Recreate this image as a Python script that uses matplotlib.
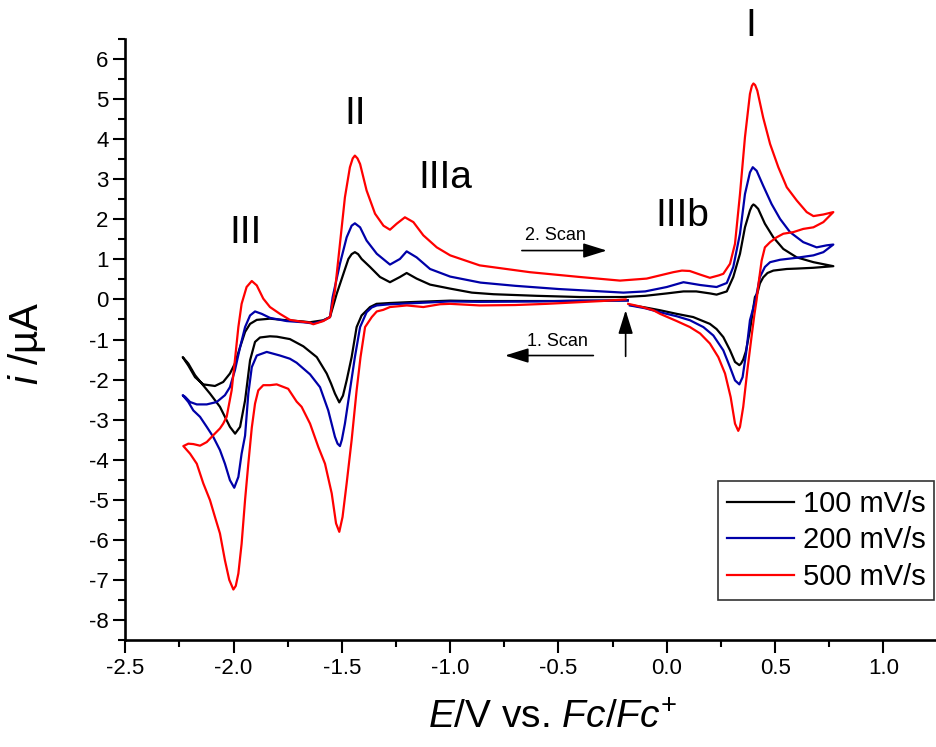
import matplotlib
matplotlib.use('Agg')
import matplotlib.pyplot as plt
from matplotlib.ticker import MultipleLocator, FormatStrFormatter

# ---------------- data (potential E / V vs Fc/Fc+, current i / uA), full CV loops ----------------
E_100 = [-0.18, -0.3, -0.5, -0.7, -0.9, -1.0, -1.1, -1.2, -1.28, -1.34, -1.37, -1.409, -1.432, -1.455,
         -1.478, -1.495, -1.512, -1.532, -1.55, -1.570, -1.616, -1.678, -1.740, -1.80, -1.832, -1.878,
         -1.901, -1.924, -1.947, -1.970, -1.993, -2.017, -2.040, -2.063, -2.109, -2.147, -2.178, -2.209,
         -2.235,
         -2.209, -2.178, -2.140, -2.086, -2.048, -2.017, -1.994, -1.970, -1.947, -1.924, -1.893, -1.832,
         -1.755, -1.678, -1.648, -1.586, -1.555, -1.524, -1.493, -1.470, -1.455, -1.440, -1.425, -1.409,
         -1.370, -1.324, -1.278, -1.232, -1.201, -1.155, -1.093, -1.0, -0.9, -0.8, -0.6, -0.4, -0.2,
         -0.1, 0.0, 0.077, 0.136, 0.2, 0.23, 0.277, 0.307, 0.338, 0.361, 0.384, 0.393, 0.400, 0.408,
         0.422, 0.453, 0.492, 0.538, 0.600, 0.677, 0.769,
         0.723, 0.677, 0.60, 0.554, 0.492, 0.465, 0.445, 0.430, 0.418, 0.407, 0.384, 0.365, 0.353,
         0.343, 0.335, 0.315, 0.292, 0.261, 0.230, 0.199, 0.122, 0.046, -0.031, -0.10, -0.17]
I_100 = [-0.02, -0.03, -0.04, -0.04, -0.04, -0.03, -0.05, -0.07, -0.09, -0.11, -0.19, -0.40, -0.69, -1.44,
         -2.02, -2.40, -2.57, -2.35, -2.10, -1.85, -1.44, -1.17, -0.99, -0.93, -0.92, -0.95,
         -1.06, -1.52, -2.52, -3.18, -3.35, -3.18, -2.93, -2.68, -2.35, -2.10, -1.89, -1.60,
         -1.44,
         -1.65, -1.94, -2.12, -2.16, -2.06, -1.85, -1.60, -1.19, -0.81, -0.61, -0.51, -0.48,
         -0.52, -0.55, -0.57, -0.52, -0.44, 0.14, 0.64, 1.01, 1.13, 1.18, 1.13, 1.01,
         0.81, 0.56, 0.43, 0.56, 0.66, 0.52, 0.37, 0.27, 0.17, 0.13, 0.09, 0.06, 0.06,
         0.09, 0.15, 0.20, 0.20, 0.15, 0.12, 0.20, 0.56, 1.14, 1.80, 2.22, 2.33, 2.37, 2.34,
         2.26, 1.89, 1.55, 1.26, 1.05, 0.93, 0.83,
         0.81, 0.79, 0.77, 0.76, 0.72, 0.66, 0.55, 0.40, 0.15, 0.06, -0.77, -1.30, -1.50,
         -1.60, -1.64, -1.56, -1.27, -0.94, -0.74, -0.61, -0.44, -0.36, -0.27, -0.20, -0.14]

E_200 = [-0.18, -0.4, -0.6, -0.86, -1.0, -1.155, -1.278, -1.339, -1.362, -1.386, -1.416, -1.440, -1.463,
         -1.486, -1.500, -1.509, -1.520, -1.532, -1.563, -1.601, -1.647, -1.694, -1.709, -1.740, -1.786,
         -1.847, -1.893, -1.916, -1.932, -1.947, -1.963, -1.978, -1.997, -2.017, -2.040, -2.063, -2.094,
         -2.124, -2.155, -2.186, -2.209, -2.235,
         -2.224, -2.201, -2.170, -2.124, -2.078, -2.040, -2.017, -1.994, -1.970, -1.947, -1.924, -1.901,
         -1.870, -1.832, -1.755, -1.678, -1.632, -1.586, -1.555, -1.543, -1.509, -1.478, -1.455, -1.440,
         -1.416, -1.386, -1.339, -1.278, -1.232, -1.201, -1.155, -1.093, -1.0, -0.86, -0.7, -0.5, -0.3,
         -0.2, -0.1, 0.0, 0.077, 0.154, 0.23, 0.277, 0.307, 0.338, 0.361, 0.384, 0.397, 0.415, 0.445,
         0.484, 0.523, 0.569, 0.630, 0.692, 0.738, 0.769,
         0.723, 0.677, 0.600, 0.523, 0.477, 0.453, 0.430, 0.415, 0.400, 0.384, 0.366, 0.350, 0.335,
         0.315, 0.292, 0.261, 0.215, 0.169, 0.107, 0.046, -0.031, -0.10, -0.17]
I_200 = [-0.03, -0.03, -0.05, -0.06, -0.05, -0.09, -0.12, -0.15, -0.20, -0.32, -0.69, -1.44, -2.27,
         -3.10, -3.50, -3.66, -3.60, -3.43, -2.77, -2.19, -1.87, -1.65, -1.58, -1.48, -1.40,
         -1.31, -1.40, -1.69, -2.35, -3.40, -3.85, -4.43, -4.70, -4.51, -4.10, -3.76, -3.43,
         -3.18, -2.93, -2.77, -2.56, -2.39,
         -2.43, -2.56, -2.62, -2.62, -2.56, -2.39, -2.19, -1.77, -1.19, -0.69, -0.40, -0.30,
         -0.36, -0.46, -0.54, -0.57, -0.60, -0.53, -0.44, 0.05, 0.89, 1.55, 1.84, 1.90,
         1.80, 1.47, 1.14, 0.87, 1.01, 1.20, 1.05, 0.76, 0.57, 0.42, 0.34, 0.26, 0.20,
         0.17, 0.20, 0.31, 0.43, 0.36, 0.31, 0.41, 0.81, 1.64, 2.63, 3.17, 3.30, 3.21, 2.84,
         2.38, 2.01, 1.68, 1.43, 1.30, 1.35, 1.37,
         1.18, 1.10, 1.04, 0.99, 0.93, 0.81, 0.56, 0.14, -0.20, -0.52, -1.35, -1.94, -2.12,
         -2.02, -1.69, -1.27, -0.90, -0.69, -0.52, -0.42, -0.32, -0.22, -0.15]

E_500 = [-0.19, -0.3, -0.45, -0.555, -0.7, -0.864, -1.0, -1.047, -1.124, -1.2, -1.278, -1.309, -1.339,
         -1.362, -1.393, -1.414, -1.432, -1.455, -1.478, -1.497, -1.512, -1.527, -1.547, -1.578, -1.609,
         -1.647, -1.686, -1.709, -1.748, -1.801, -1.832, -1.863, -1.886, -1.901, -1.916, -1.932, -1.947,
         -1.963, -1.978, -1.990, -2.001, -2.020, -2.040, -2.063, -2.086, -2.109, -2.140, -2.170, -2.201,
         -2.232,
         -2.209, -2.186, -2.155, -2.124, -2.094, -2.063, -2.048, -2.032, -2.009, -1.994, -1.978, -1.963,
         -1.940, -1.916, -1.893, -1.863, -1.832, -1.786, -1.740, -1.694, -1.647, -1.632, -1.586, -1.555,
         -1.532, -1.509, -1.486, -1.463, -1.450, -1.440, -1.428, -1.416, -1.386, -1.347, -1.308, -1.278,
         -1.247, -1.209, -1.170, -1.124, -1.062, -1.0, -0.864, -0.632, -0.401, -0.216, -0.093, 0.030,
         0.070, 0.106, 0.154, 0.199, 0.240, 0.261, 0.292, 0.315, 0.338, 0.361, 0.384, 0.393, 0.400,
         0.408, 0.418, 0.445, 0.477, 0.515, 0.554, 0.600, 0.646, 0.677, 0.723, 0.769,
         0.723, 0.677, 0.630, 0.584, 0.538, 0.507, 0.477, 0.453, 0.438, 0.425, 0.415, 0.404, 0.392,
         0.372, 0.353, 0.338, 0.330, 0.315, 0.295, 0.269, 0.238, 0.199, 0.154, 0.107, 0.046, -0.031,
         -0.062, -0.12, -0.178]
I_500 = [0.0, -0.04, -0.08, -0.11, -0.14, -0.15, -0.11, -0.12, -0.19, -0.15, -0.19, -0.26, -0.30,
         -0.44, -0.69, -1.44, -2.27, -3.51, -4.59, -5.43, -5.80, -5.59, -4.84, -4.10, -3.68,
         -3.10, -2.68, -2.55, -2.23, -2.12, -2.14, -2.14, -2.27, -2.60, -3.20, -4.10, -5.00,
         -6.10, -6.84, -7.15, -7.24, -7.00, -6.51, -5.84, -5.43, -5.01, -4.59, -4.10, -3.85,
         -3.66,
         -3.60, -3.61, -3.65, -3.56, -3.39, -3.22, -3.10, -2.93, -2.27, -1.52, -0.69, -0.11,
         0.31, 0.46, 0.35, 0.02, -0.19, -0.36, -0.51, -0.55, -0.58, -0.62, -0.54, -0.44,
         0.22, 1.39, 2.55, 3.30, 3.52, 3.59, 3.52, 3.38, 2.72, 2.14, 1.84, 1.74,
         1.89, 2.05, 1.93, 1.60, 1.30, 1.10, 0.85, 0.68, 0.56, 0.47, 0.52, 0.68,
         0.72, 0.71, 0.62, 0.54, 0.60, 0.64, 0.89, 1.39, 2.63, 4.05, 5.13, 5.33, 5.39,
         5.35, 5.21, 4.54, 3.88, 3.30, 2.80, 2.47, 2.18, 2.08, 2.12, 2.18,
         1.93, 1.80, 1.76, 1.68, 1.64, 1.55, 1.43, 1.30, 0.97, 0.45, 0.0, -0.40, -0.90,
         -1.77, -2.68, -3.18, -3.28, -3.10, -2.44, -1.85, -1.44, -1.10, -0.85, -0.69, -0.54, -0.36,
         -0.27, -0.18, -0.11]

labels = ["100 mV/s", "200 mV/s", "500 mV/s"]
colors = ["#000000", "#0000A8", "#FF0000"]
peak_labels = ["I", "II", "III", "IIIa", "IIIb"]

# ---------------- style ----------------
plt.rcParams['font.family'] = ['Liberation Sans', 'DejaVu Sans']
plt.rcParams['axes.unicode_minus'] = False
plt.rcParams['mathtext.fontset'] = 'custom'
plt.rcParams['mathtext.it'] = 'Liberation Sans:italic'
plt.rcParams['mathtext.rm'] = 'Liberation Sans'
plt.rcParams['mathtext.sf'] = 'Liberation Sans'

W, H = 936, 747
fig = plt.figure(figsize=(W / 100, H / 100), dpi=100)
ax = fig.add_axes([125.3 / W, 107 / H, (W - 125.3) / W, 601 / H])

for E, I, lab, col in zip([E_100, E_200, E_500], [I_100, I_200, I_500], labels, colors):
    ax.plot(E, I, color=col, lw=1.6, label=lab)

ax.set_xlim(-2.5, 1.243)
ax.set_ylim(-8.5, 6.5)
for s in ['top', 'right']:
    ax.spines[s].set_visible(False)
for s in ['left', 'bottom']:
    ax.spines[s].set_linewidth(1.9)

ax.xaxis.set_major_locator(MultipleLocator(0.5))
ax.xaxis.set_minor_locator(MultipleLocator(0.25))
ax.yaxis.set_major_locator(MultipleLocator(1))
ax.yaxis.set_minor_locator(MultipleLocator(0.5))
ax.xaxis.set_major_formatter(FormatStrFormatter('%.1f'))
ax.yaxis.set_major_formatter(FormatStrFormatter('%d'))
ax.tick_params(which='major', direction='out', length=9, width=1.5, labelsize=16)
ax.tick_params(axis='x', which='major', pad=4)
ax.tick_params(axis='y', which='major', pad=3)
ax.tick_params(which='minor', direction='out', length=5, width=1.5)

fig.text(553 / W, 1 - 718 / H, r'$E$/V vs. $Fc/Fc^{+}$', fontsize=28, ha='center', va='center')
fig.text(27 / W, 1 - 343 / H, r'$i$ /µA', fontsize=29, ha='center', va='center', rotation=90)

# peak labels
pos = [(0.389, 6.83), (-1.44, 4.64), (-1.947, 1.67), (-1.024, 3.04), (0.074, 2.09)]
for t, (x, y) in zip(peak_labels, pos):
    ax.text(x, y, t, fontsize=28, ha='center', va='center')

# scan arrows
ap = dict(arrowstyle='-|>,head_length=0.9,head_width=0.28', color='black', lw=1.2,
          shrinkA=0, shrinkB=0, mutation_scale=16)
ax.annotate('', xy=(-0.277, 1.22), xytext=(-0.669, 1.22), arrowprops=ap)
ax.text(-0.512, 1.6, '2. Scan', fontsize=13, ha='center', va='center')
ax.annotate('', xy=(-0.747, -1.40), xytext=(-0.339, -1.40), arrowprops=ap)
ax.text(-0.507, -1.06, '1. Scan', fontsize=13, ha='center', va='center')
ax.annotate('', xy=(-0.19, -0.27), xytext=(-0.19, -1.42), arrowprops=ap)

leg = ax.legend(loc='upper left', bbox_to_anchor=(718 / W, 1 - 481 / H), bbox_transform=fig.transFigure,
                fontsize=21, frameon=True, fancybox=False, edgecolor='black', handlelength=2.3,
                handletextpad=0.3, borderpad=0.3, labelspacing=0.3, borderaxespad=0)
leg.get_frame().set_linewidth(1.2)

fig.savefig('out.png', dpi=100)
